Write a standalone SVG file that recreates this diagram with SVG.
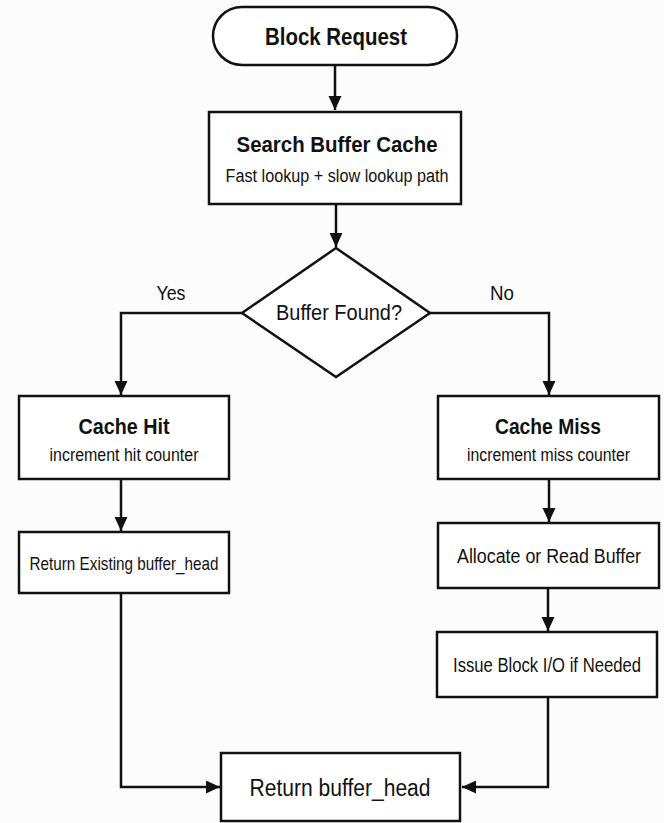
<svg xmlns="http://www.w3.org/2000/svg" width="664" height="823" viewBox="0 0 664 823">
  <style>
    .shape { fill: #ffffff; stroke: #111111; stroke-width: 2.5; }
    .conn { fill: none; stroke: #111111; stroke-width: 2.5; }
    text { font-family: "Liberation Sans Narrow", "Liberation Sans", Arial, sans-serif; fill: #111111; text-anchor: middle; }
    .b { font-weight: bold; }
    .t { font-size: 22px; }
    .s { font-size: 18px; }
    .m { font-size: 20px; }
  </style>
  <defs>
    <marker id="arrow" markerUnits="userSpaceOnUse" markerWidth="16" markerHeight="14" refX="14" refY="6.5" orient="auto">
      <path d="M0,0 L14,6.5 L0,13 z" fill="#111111"/>
    </marker>
  </defs>
  <rect width="664" height="823" fill="#fcfcfc"/>

  <g id="connectors">
    <path class="conn" d="M335,65 V110" marker-end="url(#arrow)"/>
    <path class="conn" d="M336,204 V247" marker-end="url(#arrow)"/>
    <path class="conn" d="M242,313 H121 V395" marker-end="url(#arrow)"/>
    <path class="conn" d="M430,313 H549 V395" marker-end="url(#arrow)"/>
    <path class="conn" d="M121,479 V531" marker-end="url(#arrow)"/>
    <path class="conn" d="M549,479 V522" marker-end="url(#arrow)"/>
    <path class="conn" d="M548,588 V631" marker-end="url(#arrow)"/>
    <path class="conn" d="M121,593 V787 H220" marker-end="url(#arrow)"/>
    <path class="conn" d="M548,697 V787 H462" marker-end="url(#arrow)"/>
    <text x="171" y="300" style="font-size:21px" textLength="29" lengthAdjust="spacingAndGlyphs">Yes</text>
    <text x="502" y="300" style="font-size:21px" textLength="24" lengthAdjust="spacingAndGlyphs">No</text>
  </g>

  <g id="block-request">
    <rect class="shape" x="213" y="7" width="244" height="58" rx="29" ry="29"/>
    <text class="b" x="336" y="45" style="font-size:24px" textLength="142" lengthAdjust="spacingAndGlyphs">Block Request</text>
  </g>

  <g id="search-buffer-cache">
    <rect class="shape" x="209" y="112" width="252" height="92"/>
    <text class="b t" x="337" y="152" textLength="201" lengthAdjust="spacingAndGlyphs">Search Buffer Cache</text>
    <text class="s" x="337" y="182" textLength="223" lengthAdjust="spacingAndGlyphs">Fast lookup + slow lookup path</text>
  </g>

  <g id="buffer-found">
    <polygon class="shape" points="336,248 430,313 336,377 242,313"/>
    <text class="t" x="339" y="320" textLength="126" lengthAdjust="spacingAndGlyphs">Buffer Found?</text>
  </g>

  <g id="cache-hit">
    <rect class="shape" x="19" y="396" width="210" height="83"/>
    <text class="b t" x="124" y="434" textLength="91" lengthAdjust="spacingAndGlyphs">Cache Hit</text>
    <text class="s" x="124" y="461" textLength="149" lengthAdjust="spacingAndGlyphs">increment hit counter</text>
  </g>

  <g id="return-existing">
    <rect class="shape" x="19" y="532" width="210" height="61"/>
    <text class="s" x="124" y="570" style="font-size:19px" textLength="189" lengthAdjust="spacingAndGlyphs">Return Existing buffer_head</text>
  </g>

  <g id="cache-miss">
    <rect class="shape" x="438" y="396" width="221" height="83"/>
    <text class="b t" x="548" y="434" textLength="106" lengthAdjust="spacingAndGlyphs">Cache Miss</text>
    <text class="s" x="548.5" y="461" textLength="163" lengthAdjust="spacingAndGlyphs">increment miss counter</text>
  </g>

  <g id="allocate-read">
    <rect class="shape" x="438" y="523" width="221" height="65"/>
    <text class="m" x="549" y="563" textLength="184" lengthAdjust="spacingAndGlyphs">Allocate or Read Buffer</text>
  </g>

  <g id="issue-block-io">
    <rect class="shape" x="437" y="632" width="220" height="65"/>
    <text class="m" x="547" y="672" textLength="188" lengthAdjust="spacingAndGlyphs">Issue Block I/O if Needed</text>
  </g>

  <g id="return-buffer-head">
    <rect class="shape" x="221" y="753" width="239" height="68"/>
    <text x="340" y="796" style="font-size:23px" textLength="181" lengthAdjust="spacingAndGlyphs">Return buffer_head</text>
  </g>
</svg>
